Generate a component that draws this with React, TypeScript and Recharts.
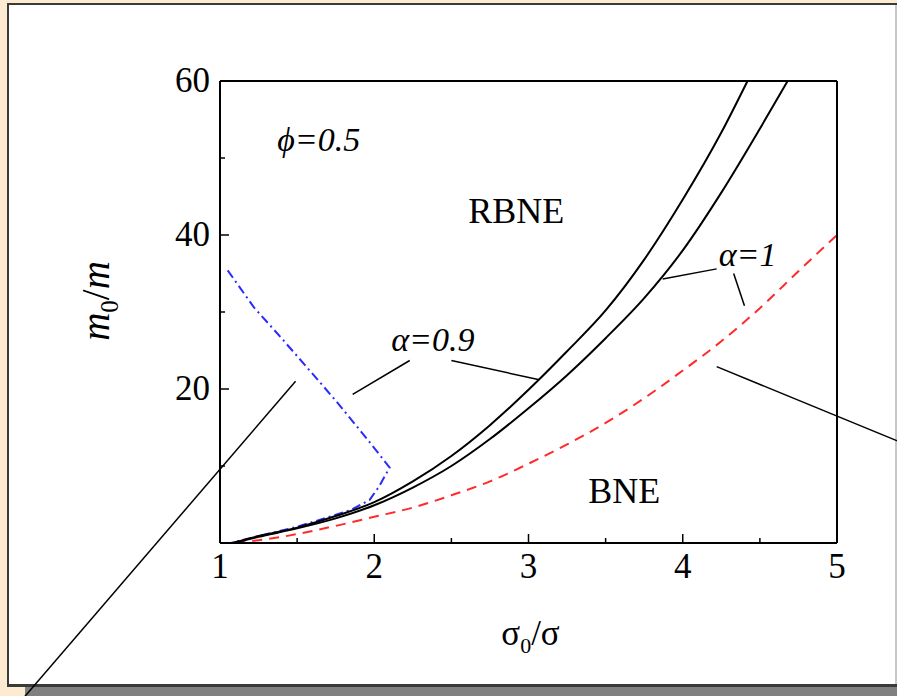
import React from "react";
import {
  LineChart,
  Line,
  XAxis,
  YAxis,
  ReferenceLine,
  ReferenceDot,
} from "recharts";

const SERIF = '"Liberation Serif", "Times New Roman", serif';

// axis ticks
const xTicks = [1, 1.5, 2, 2.5, 3, 3.5, 4, 4.5, 5];
const xTickLabels = [1, 2, 3, 4, 5];
const yTicks = [0, 10, 20, 30, 40, 50, 60];
const yTickLabels = [20, 40, 60];

// alpha = 0.9 boundary (solid black, left curve)
const a09Sigma = [1.08, 1.25, 1.5, 1.75, 2.0, 2.25, 2.5, 2.75, 3.0, 3.25, 3.5, 3.75, 4.0, 4.25, 4.42];
const a09M = [0, 0.9, 2.0, 3.5, 5.3, 8.0, 11.3, 15.3, 19.9, 24.9, 30.2, 36.8, 44.6, 53.3, 60];

// alpha = 1 boundary (solid black, right curve)
const a1Sigma = [1.08, 1.25, 1.5, 1.75, 2.0, 2.25, 2.5, 2.75, 3.0, 3.25, 3.5, 3.75, 4.0, 4.25, 4.5, 4.68];
const a1M = [0, 0.8, 1.9, 3.2, 4.9, 7.2, 10.0, 13.5, 17.5, 21.8, 26.6, 31.8, 38.0, 45.5, 53.8, 60];

// red dashed curve
const redSigma = [1.1, 1.4, 1.7, 2.0, 2.25, 2.5, 2.75, 3.0, 3.25, 3.5, 3.75, 4.0, 4.25, 4.5, 4.75, 5.0];
const redM = [0, 0.8, 2.0, 3.4, 4.6, 6.2, 8.0, 10.3, 12.8, 15.6, 18.8, 22.4, 26.2, 30.5, 35.3, 40.0];

// blue dash-dot curve, in drawing order
const blueSigma = [1.05, 1.22, 1.39, 1.56, 1.75, 1.95, 2.1, 2.03, 1.97, 1.85, 1.5, 1.25, 1.07, 1.0];
const blueM = [35.4, 30.6, 26.8, 22.9, 18.5, 13.6, 9.8, 7.3, 5.6, 4.3, 2.1, 0.9, 0, 0];

// pointer lines (from, to) in axis units
const pointers = [
  [[1.49, 21.0], [-0.294, -20.6]],
  [[4.22, 22.9], [5.43, 12.95]],
  [[1.86, 19.3], [2.23, 23.7]],
  [[2.5, 23.7], [3.07, 21.2]],
  [[3.87, 34.3], [4.22, 35.6]],
  [[4.33, 35.0], [4.4, 30.8]],
];

const notes = [
  { text: "RBNE", s: 2.92, m: 41.5, italic: false, size: 36 },
  { text: "BNE", s: 3.62, m: 5.2, italic: false, size: 36 },
  { text: "\u03d5=0.5", s: 1.64, m: 50.9, italic: true, size: 34 },
  { text: "\u03b1=0.9", s: 2.38, m: 25.0, italic: true, size: 34 },
  { text: "\u03b1=1", s: 4.42, m: 36.0, italic: true, size: 34 },
];

const zip = (s: number[], m: number[]) => s.map((v, i) => ({ s: v, m: m[i] }));

const BottomTick = (p: any) => {
  const v = p.payload.value;
  const major = xTickLabels.includes(v);
  return (
    <g>
      <line x1={p.x} x2={p.x} y1={p.y} y2={p.y - (major ? 9 : 5)} stroke="#000" strokeWidth={1.5} />
      {major && (
        <text x={p.x} y={p.y + 35} textAnchor="middle" fontFamily={SERIF} fontSize={35} fill="#000">
          {v}
        </text>
      )}
    </g>
  );
};

const TopTick = (p: any) => {
  const major = xTickLabels.includes(p.payload.value);
  return <line x1={p.x} x2={p.x} y1={p.y} y2={p.y + (major ? 9 : 5)} stroke="#000" strokeWidth={1.5} />;
};

const LeftTick = (p: any) => {
  const v = p.payload.value;
  const major = v % 20 === 0;
  return (
    <g>
      <line x1={p.x} x2={p.x + (major ? 9 : 5)} y1={p.y} y2={p.y} stroke="#000" strokeWidth={1.5} />
      {yTickLabels.includes(v) && (
        <text x={p.x - 10} y={p.y + 11} textAnchor="end" fontFamily={SERIF} fontSize={35} fill="#000">
          {v}
        </text>
      )}
    </g>
  );
};

const RightTick = (p: any) => {
  const major = p.payload.value % 20 === 0;
  return <line x1={p.x} x2={p.x - (major ? 9 : 5)} y1={p.y} y2={p.y} stroke="#000" strokeWidth={1.5} />;
};

const XLabel = (props: any) => {
  const vb = props.viewBox || { x: 220, y: 543, width: 617 };
  return (
    <text x={vb.x + vb.width / 2 + 2} y={vb.y + 102} textAnchor="middle" fontFamily={SERIF} fontSize={35} fill="#000">
      σ<tspan fontSize={22} dy={8}>0</tspan>
      <tspan dy={-8}>/σ</tspan>
    </text>
  );
};

const YLabel = () => (
  <text
    x={0}
    y={0}
    transform="translate(109, 301) rotate(-90)"
    textAnchor="middle"
    fontFamily={SERIF}
    fontSize={39}
    fill="#000"
  >
    <tspan fontStyle="italic">m</tspan>
    <tspan fontSize={25} dy={9}>0</tspan>
    <tspan dy={-9}>/</tspan>
    <tspan fontStyle="italic">m</tspan>
  </text>
);

export default function App() {
  return (
    <div
      style={{
        position: "absolute",
        left: 0,
        top: 0,
        width: 897,
        height: 696,
        overflow: "hidden",
        background: "#fcebd0",
      }}
    >
      {/* slide panel and its shadow */}
      <div style={{ position: "absolute", left: 25, top: 684, width: 880, height: 12, background: "#808080" }} />
      <div
        style={{
          position: "absolute",
          left: 7,
          top: 3,
          width: 900,
          height: 679,
          background: "#fff",
          borderTop: "2px solid #3a3a3a",
          borderLeft: "2px solid #3a3a3a",
          borderBottom: "3px solid #3a3a3a",
        }}
      />
      <div style={{ position: "absolute", left: 895, top: 5, width: 2, height: 679, background: "#c8c8c8" }} />

      <div style={{ position: "absolute", left: 0, top: 0 }}>
        <LineChart width={897} height={696} margin={{ top: 80, right: 59, bottom: 152, left: 219 }}>
          <XAxis
            dataKey="s"
            type="number"
            domain={[1, 5]}
            ticks={xTicks}
            interval={0}
            height={1}
            tickSize={0}
            tickMargin={0}
            tickLine={false}
            tick={<BottomTick />}
            axisLine={{ stroke: "#000", strokeWidth: 2 }}
            label={<XLabel />}
          />
          <XAxis
            xAxisId="top"
            orientation="top"
            dataKey="s"
            type="number"
            domain={[1, 5]}
            ticks={xTicks}
            interval={0}
            height={1}
            tickSize={0}
            tickMargin={0}
            tickLine={false}
            tick={<TopTick />}
            axisLine={{ stroke: "#000", strokeWidth: 2 }}
          />
          <YAxis
            type="number"
            domain={[0, 60]}
            ticks={yTicks}
            interval={0}
            width={1}
            tickSize={0}
            tickMargin={0}
            tickLine={false}
            tick={<LeftTick />}
            axisLine={{ stroke: "#000", strokeWidth: 2 }}
            label={<YLabel />}
          />
          <YAxis
            yAxisId="right"
            orientation="right"
            type="number"
            domain={[0, 60]}
            ticks={yTicks}
            interval={0}
            width={1}
            tickSize={0}
            tickMargin={0}
            tickLine={false}
            tick={<RightTick />}
            axisLine={{ stroke: "#000", strokeWidth: 2 }}
          />

          <Line
            data={zip(redSigma, redM)}
            dataKey="m"
            type="monotone"
            stroke="#ff2a2a"
            strokeWidth={2}
            strokeDasharray="10 7"
            dot={false}
            isAnimationActive={false}
          />
          <Line
            data={zip(blueSigma, blueM)}
            dataKey="m"
            type="linear"
            stroke="#2a2aff"
            strokeWidth={2}
            strokeDasharray="9 4 2 4"
            dot={false}
            isAnimationActive={false}
          />
          <Line
            data={zip(a09Sigma, a09M)}
            dataKey="m"
            type="monotone"
            stroke="#000"
            strokeWidth={2}
            dot={false}
            isAnimationActive={false}
          />
          <Line
            data={zip(a1Sigma, a1M)}
            dataKey="m"
            type="monotone"
            stroke="#000"
            strokeWidth={2}
            dot={false}
            isAnimationActive={false}
          />

          {pointers.map((seg, i) => (
            <ReferenceLine
              key={i}
              segment={[
                { x: seg[0][0], y: seg[0][1] },
                { x: seg[1][0], y: seg[1][1] },
              ]}
              stroke="#000"
              strokeWidth={1.5}
              ifOverflow="visible"
            />
          ))}

          {notes.map((n) => (
            <ReferenceDot
              key={n.text}
              x={n.s}
              y={n.m}
              r={0}
              ifOverflow="visible"
              shape={(p: any) => (
                <text
                  x={p.cx}
                  y={p.cy}
                  textAnchor="middle"
                  fontFamily={SERIF}
                  fontSize={n.size}
                  fontStyle={n.italic ? "italic" : "normal"}
                  fill="#000"
                >
                  {n.text}
                </text>
              )}
            />
          ))}
        </LineChart>
      </div>
    </div>
  );
}
